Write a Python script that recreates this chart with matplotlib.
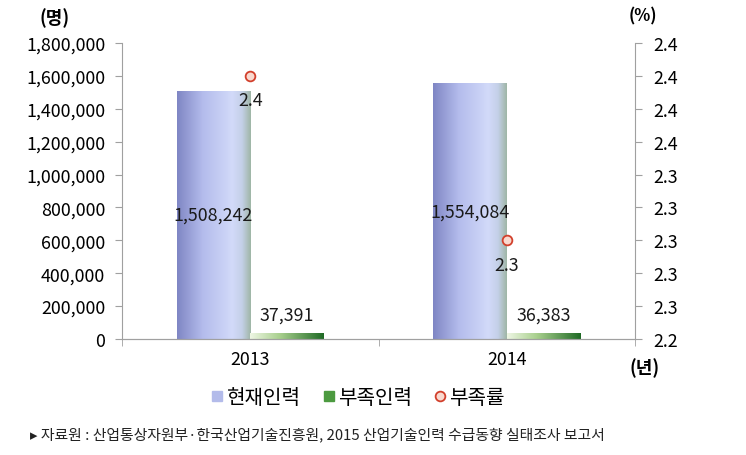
import numpy as np
import matplotlib
matplotlib.use('Agg')
import matplotlib.pyplot as plt
from matplotlib.colors import LinearSegmentedColormap
from matplotlib.lines import Line2D

plt.rcParams['font.family'] = ['Noto Sans CJK KR', 'DejaVu Sans']
plt.rcParams['axes.unicode_minus'] = False

# data
years = ['2013', '2014']
current = [1508242, 1554084]      # 현재인력
shortage = [37391, 36383]         # 부족인력
rate = [2.40, 2.30]               # 부족률 (%)
series_names = ['현재인력', '부족인력', '부족률']
left_ticks = np.arange(0, 1800001, 200000)
right_ticks = [2.24, 2.26, 2.28, 2.30, 2.32, 2.34, 2.36, 2.38, 2.40, 2.42]
source = '▸ 자료원 : 산업통상자원부·한국산업기술진흥원, 2015 산업기술인력 수급동향 실태조사 보고서'

fs = 12.8  # number font size

blue_cm = LinearSegmentedColormap.from_list('b', [(0, '#7f86c4'), (0.35, '#b4bcec'),
                                                  (0.75, '#d2daf9'), (0.88, '#c4d0e8'),
                                                  (1, '#9fb6a6')])
green_cm = LinearSegmentedColormap.from_list('g', [(0, '#eef6e4'), (0.4, '#a9d08e'),
                                                   (1, '#1f6a25')])

fig = plt.figure(figsize=(7.46, 4.56), dpi=100)
ax = fig.add_axes([122/746, 1-340/456, 513/746, 296/456])
ax2 = ax.twinx()

x = np.arange(len(years))
w = 0.287
b1 = ax.bar(x - w/2, current, width=w, color='none', edgecolor='none')
b2 = ax.bar(x + w/2, shortage, width=w, color='none', edgecolor='none')

grad = np.linspace(0, 1, 256).reshape(1, -1)
for bars, cm in [(b1, blue_cm), (b2, green_cm)]:
    for p in bars:
        x0, y0 = p.get_x(), p.get_y()
        im = ax.imshow(grad, cmap=cm, aspect='auto', zorder=2,
                       extent=[x0, x0 + p.get_width(), y0, y0 + p.get_height()])
        im.set_clip_path(p)

ax.set_xlim(-0.5, 1.5)
ax.set_ylim(0, 1800000)
ax.set_yticks(left_ticks)
ax.set_yticklabels(['{:,}'.format(v) for v in left_ticks])
ax.set_xticks(x)
ax.set_xticklabels(years)
ax.set_xticks([-0.5, 0.5, 1.5], minor=True)
ax.tick_params(axis='x', which='major', length=0, labelsize=fs, pad=8)
ax.tick_params(axis='x', which='minor', length=5, color='#a0a0a0')
ax.tick_params(axis='y', length=5, color='#a0a0a0', labelsize=fs, pad=7)

for b, v in zip(b1, current):
    ax.text(b.get_x() + b.get_width()/2, v/2, '{:,}'.format(v),
            ha='center', va='center', fontsize=fs, color='#1a1a1a', zorder=3)
for b, v in zip(b2, shortage):
    ax.text(b.get_x() + b.get_width()/2, v + 55000, '{:,}'.format(v),
            ha='center', va='bottom', fontsize=fs, color='#1a1a1a', zorder=3)

ax2.set_ylim(2.24, 2.42)
ax2.set_yticks(right_ticks)
ax2.set_yticklabels(['%.1f' % round(v, 2) for v in right_ticks])
ax2.tick_params(axis='y', length=5, color='#a0a0a0', labelsize=fs, pad=8)
ax2.plot(x, rate, linestyle='none', marker='o', markersize=7,
         markerfacecolor='#f9d9cf', markeredgecolor='#d2402c', markeredgewidth=1.3, zorder=4)
for xi, r in zip(x, rate):
    ax2.annotate('%.1f' % r, (xi, r), xytext=(0, -11), textcoords='offset points',
                 ha='center', va='top', fontsize=fs, color='#1a1a1a')

for a in (ax, ax2):
    a.spines['top'].set_visible(False)
    for s in ('left', 'right', 'bottom'):
        a.spines[s].set_color('#a0a0a0')
ax2.spines['left'].set_visible(False)
ax.spines['right'].set_visible(False)
ax.set_zorder(ax2.get_zorder() - 1)
ax2.patch.set_visible(False)

fig.text(55/746, 1-18/456, '(명)', ha='center', va='center', fontsize=13, fontweight='bold')
fig.text(643/746, 1-16/456, '(%)', ha='center', va='center', fontsize=12, fontweight='bold')
fig.text(645/746, 1-368/456, '(년)', ha='center', va='center', fontsize=13, fontweight='bold')

handles = [Line2D([], [], linestyle='none', marker='s', markersize=7,
                  markerfacecolor='#b3bbea', markeredgecolor='#b3bbea'),
           Line2D([], [], linestyle='none', marker='s', markersize=7,
                  markerfacecolor='#4c9a40', markeredgecolor='#4c9a40'),
           Line2D([], [], linestyle='none', marker='o', markersize=7,
                  markerfacecolor='#f9d9cf', markeredgecolor='#d2402c', markeredgewidth=1.3)]
fig.legend(handles, series_names, loc='center', bbox_to_anchor=(357/746, 1-399/456),
           ncol=3, frameon=False, fontsize=14.5, handletextpad=0.05, columnspacing=1.0,
           handlelength=0.8)

fig.text(30/746, 1-435/456, source, ha='left', va='center', fontsize=10.7, color='#222222')

fig.savefig('out.png', dpi=100)
